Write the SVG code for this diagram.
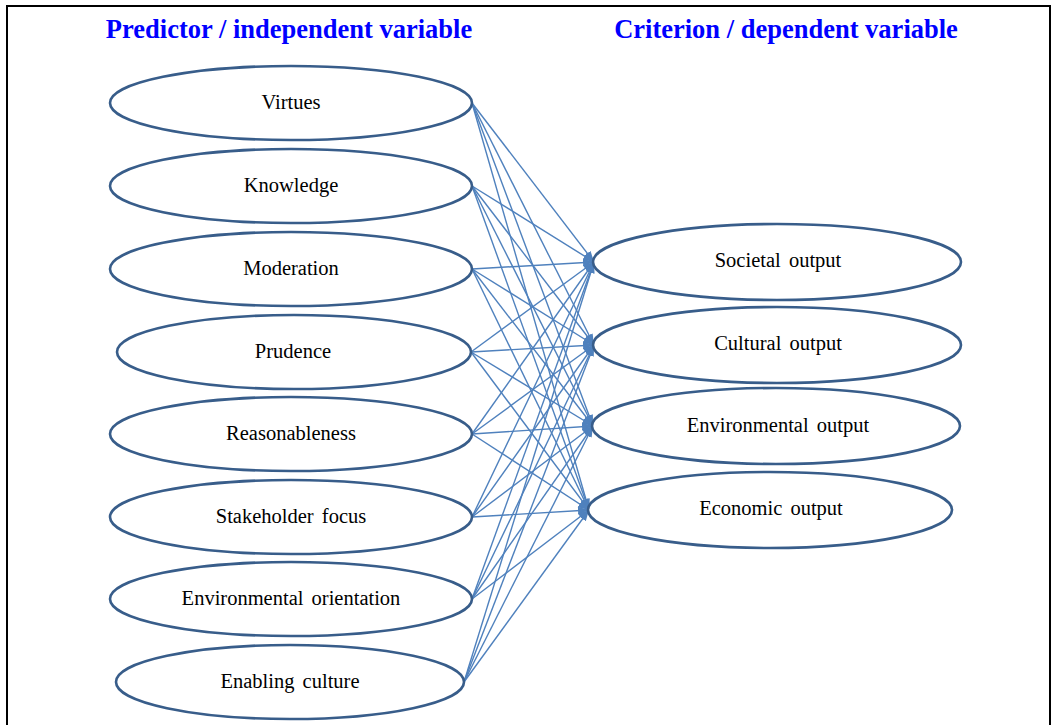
<svg xmlns="http://www.w3.org/2000/svg" width="1054" height="725" viewBox="0 0 1054 725">
<style>
.node ellipse{fill:#fff;stroke:#385D8A;stroke-width:2.6}
.node text{font-family:"Liberation Serif","Times New Roman",serif;font-size:20.5px;fill:#000;text-anchor:middle}
.title{font-family:"Liberation Serif","Times New Roman",serif;font-size:26.5px;font-weight:bold;fill:#0000FF;text-anchor:middle}
#connectors line{stroke:#4F81BD;stroke-width:1.4;marker-end:url(#ah)}
</style>
<defs>
<marker id="ah" markerUnits="userSpaceOnUse" markerWidth="12" markerHeight="9" refX="11" refY="4.5" orient="auto">
<path d="M0,0.5 L11,4.5 L0,8.5 z" fill="#4F81BD"/>
</marker>
</defs>
<rect x="0" y="0" width="1054" height="725" fill="#fff"/>
<path d="M7,725 L7,6 L1050,6 L1050,725" fill="none" stroke="#000" stroke-width="2"/>
<text class="title" x="289" y="38">Predictor / independent variable</text>
<text class="title" x="786" y="38">Criterion / dependent variable</text>
<g id="connectors">
<line x1="472" y1="103" x2="594" y2="262"/>
<line x1="472" y1="103" x2="594" y2="345"/>
<line x1="472" y1="103" x2="593" y2="426"/>
<line x1="472" y1="103" x2="589" y2="510"/>
<line x1="472" y1="186" x2="594" y2="262"/>
<line x1="472" y1="186" x2="594" y2="345"/>
<line x1="472" y1="186" x2="593" y2="426"/>
<line x1="472" y1="186" x2="589" y2="510"/>
<line x1="472" y1="269" x2="594" y2="262"/>
<line x1="472" y1="269" x2="594" y2="345"/>
<line x1="472" y1="269" x2="593" y2="426"/>
<line x1="472" y1="269" x2="589" y2="510"/>
<line x1="471" y1="352" x2="594" y2="262"/>
<line x1="471" y1="352" x2="594" y2="345"/>
<line x1="471" y1="352" x2="593" y2="426"/>
<line x1="471" y1="352" x2="589" y2="510"/>
<line x1="472" y1="434" x2="594" y2="262"/>
<line x1="472" y1="434" x2="594" y2="345"/>
<line x1="472" y1="434" x2="593" y2="426"/>
<line x1="472" y1="434" x2="589" y2="510"/>
<line x1="472" y1="517" x2="594" y2="262"/>
<line x1="472" y1="517" x2="594" y2="345"/>
<line x1="472" y1="517" x2="593" y2="426"/>
<line x1="472" y1="517" x2="589" y2="510"/>
<line x1="472" y1="599" x2="594" y2="262"/>
<line x1="472" y1="599" x2="594" y2="345"/>
<line x1="472" y1="599" x2="593" y2="426"/>
<line x1="472" y1="599" x2="589" y2="510"/>
<line x1="464" y1="682" x2="594" y2="262"/>
<line x1="464" y1="682" x2="594" y2="345"/>
<line x1="464" y1="682" x2="593" y2="426"/>
<line x1="464" y1="682" x2="589" y2="510"/>
</g>
<g id="n-virtues" class="node"><ellipse cx="291" cy="103" rx="181" ry="37"/><text x="291" y="109">Virtues</text></g>
<g id="n-knowledge" class="node"><ellipse cx="291" cy="186" rx="181" ry="37"/><text x="291" y="192">Knowledge</text></g>
<g id="n-moderation" class="node"><ellipse cx="291" cy="269" rx="181" ry="37"/><text x="291" y="275">Moderation</text></g>
<g id="n-prudence" class="node"><ellipse cx="294" cy="352" rx="177" ry="37"/><text x="293" y="358">Prudence</text></g>
<g id="n-reasonableness" class="node"><ellipse cx="291" cy="434" rx="181" ry="37"/><text x="291" y="440">Reasonableness</text></g>
<g id="n-stakeholder" class="node"><ellipse cx="291" cy="517" rx="181" ry="37"/><text x="291" y="523" word-spacing="3">Stakeholder focus</text></g>
<g id="n-envorient" class="node"><ellipse cx="291" cy="599" rx="181" ry="37"/><text x="291" y="605" word-spacing="3">Environmental orientation</text></g>
<g id="n-enabling" class="node"><ellipse cx="290" cy="682" rx="174" ry="37"/><text x="290" y="688" word-spacing="3">Enabling culture</text></g>
<g id="n-societal" class="node"><ellipse cx="777" cy="262" rx="184" ry="38"/><text x="778" y="267" word-spacing="3">Societal output</text></g>
<g id="n-cultural" class="node"><ellipse cx="777" cy="345" rx="184" ry="38"/><text x="778" y="350" word-spacing="3">Cultural output</text></g>
<g id="n-environmental" class="node"><ellipse cx="776" cy="426" rx="184" ry="38"/><text x="778" y="432" word-spacing="3">Environmental output</text></g>
<g id="n-economic" class="node"><ellipse cx="770" cy="510" rx="182" ry="38"/><text x="771" y="515" word-spacing="3">Economic output</text></g>
</svg>
